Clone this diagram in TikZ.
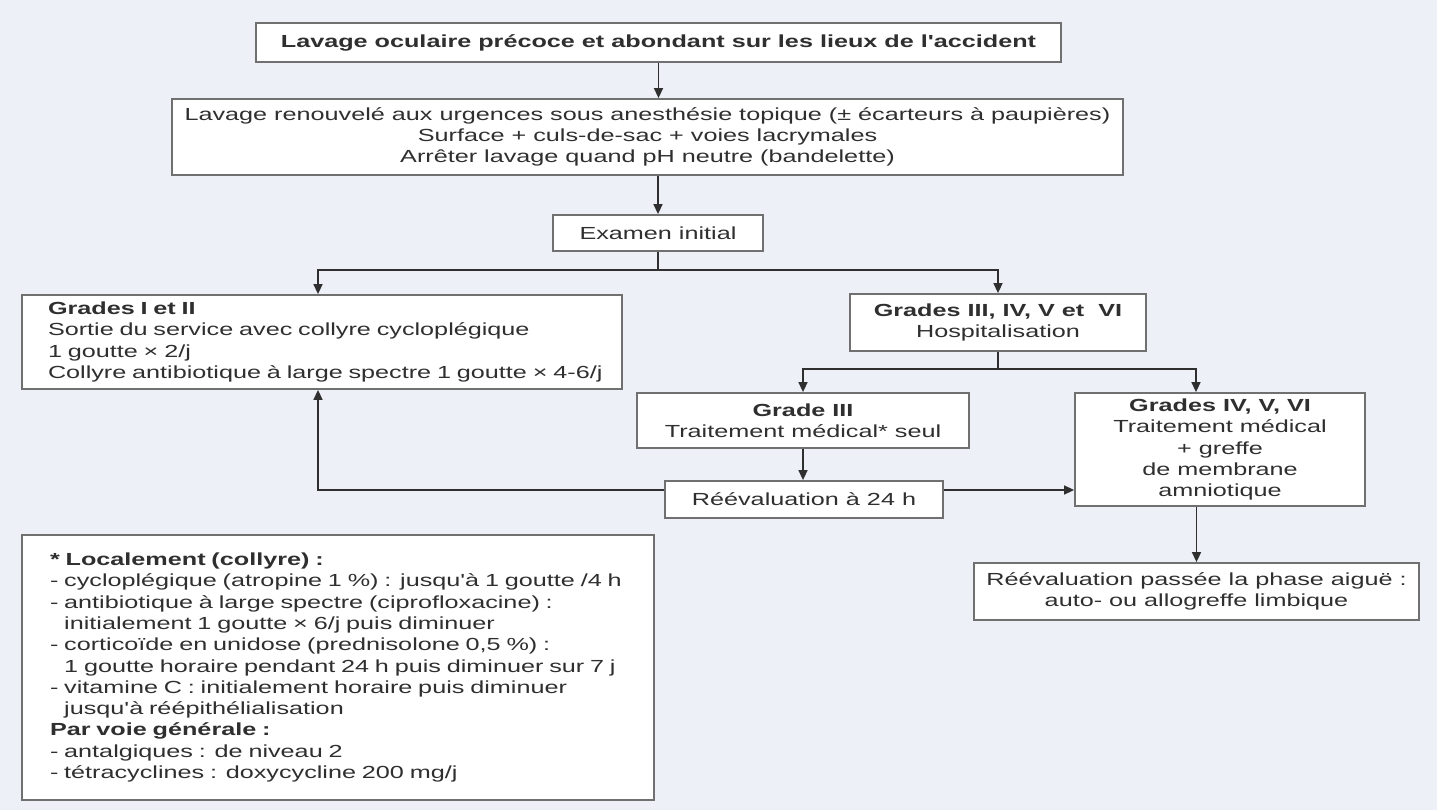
\documentclass[tikz,border=0pt]{standalone}
\usepackage{fontspec}
\setmainfont{Liberation Sans}[FakeStretch=1.44, Ligatures=TeXOff]
\usetikzlibrary{arrows.meta}
\definecolor{bgc}{HTML}{EDF0F6}
\definecolor{bdc}{HTML}{707070}
\definecolor{txc}{HTML}{2F2F2F}
\hbadness=10000 \hfuzz=50pt
\begin{document}
\begin{tikzpicture}[x=1pt,y=-1pt,
  box/.style={draw=bdc, line width=1.8pt, fill=white, text=txc, align=center,
    inner sep=0pt, font=\fontsize{17.5}{21.3}\selectfont},
  lbox/.style={box, align=left, anchor=center},
  arr/.style={draw=txc, line width=1.5pt, -{Triangle[length=10pt,width=9pt]}},
  ln/.style={draw=txc, line width=1.5pt}]
\fill[bgc] (0,0) rectangle (1437,810);
\useasboundingbox (0,0) rectangle (1437,810);

\node[box, minimum width=805, minimum height=39] (a) at (658.5,42.5)
  {\textbf{Lavage oculaire précoce et abondant sur les lieux de l'accident}};
\node[box, minimum width=951, minimum height=76] (b) at (647.5,137)
  {Lavage renouvelé aux urgences sous anesthésie topique (± écarteurs à paupières)\\
   Surface + culs-de-sac + voies lacrymales\\
   Arrêter lavage quand pH neutre (bandelette)};
\node[box, minimum width=210, minimum height=36] (c) at (658,233) {Examen initial};
\node[lbox, inner xsep=26pt, text width=548pt, minimum height=94] (d) at (322,342)
  {\textbf{Grades I et II}\\
   Sortie du service avec collyre cycloplégique\\
   1 goutte × 2/j\\
   \mbox{Collyre antibiotique à large spectre 1 goutte × 4-6/j}};
\node[box, minimum width=296, minimum height=57] (e) at (998,322.5)
  {\textbf{Grades III, IV, V et\ \ VI}\\ Hospitalisation};
\node[box, minimum width=332, minimum height=55] (f) at (803,420.5)
  {\textbf{Grade III}\\ Traitement médical* seul};
\node[box, minimum width=278, minimum height=37] (g) at (804,499.5)
  {Réévaluation à 24 h};
\node[box, minimum width=290, minimum height=113] (h) at (1220,449.5)
  {\textbf{Grades IV, V, VI}\\ Traitement médical\\ + greffe\\ de membrane\\ amniotique};
\node[box, minimum width=445, minimum height=57] (i) at (1196.5,591.5)
  {Réévaluation passée la phase aiguë :\\ auto- ou allogreffe limbique};
\node[lbox, inner xsep=28pt, text width=576pt, minimum height=265] (j) at (338,667.5)
  {\textbf{* Localement (collyre) :}\\
   - cycloplégique (atropine 1 \%) : jusqu'à 1 goutte /4 h\\
   - antibiotique à large spectre (ciprofloxacine) :\\
   \phantom{- }initialement 1 goutte × 6/j puis diminuer\\
   - corticoïde en unidose (prednisolone 0,5 \%) :\\
   \phantom{- }1 goutte horaire pendant 24 h puis diminuer sur 7 j\\
   - vitamine C : initialement horaire puis diminuer\\
   \phantom{- }jusqu'à réépithélialisation\\
   \textbf{Par voie générale :}\\
   - antalgiques : de niveau 2\\
   - tétracyclines : doxycycline 200 mg/j};

\coordinate (dn) at ([xshift=-4pt]d.north);
\coordinate (ds) at ([xshift=-4pt]d.south);
\coordinate (hn) at ([xshift=-24pt]h.north);
\coordinate (gw) at ([yshift=9.5pt]g.west);
\coordinate (ge) at ([yshift=9.5pt]g.east);

\draw[arr] (a.south) -- (a.south |- b.north);
\draw[arr] (b.south -| c.north) -- (c.north);
\draw[arr] (c.south) -- ++(0,18) -| (dn);
\draw[arr] (c.south) -- ++(0,18) -| (e.north);
\draw[arr] (e.south) -- ++(0,17) -| (f.north);
\draw[arr] (e.south) -- ++(0,17) -| (hn);
\draw[arr] (f.south) -- (f.south |- g.north);
\draw[arr] (gw) -| (ds);
\draw[arr] (ge) -- (h.west |- ge);
\draw[arr] (h.south -| i.north) -- (i.north);
\end{tikzpicture}
\end{document}
